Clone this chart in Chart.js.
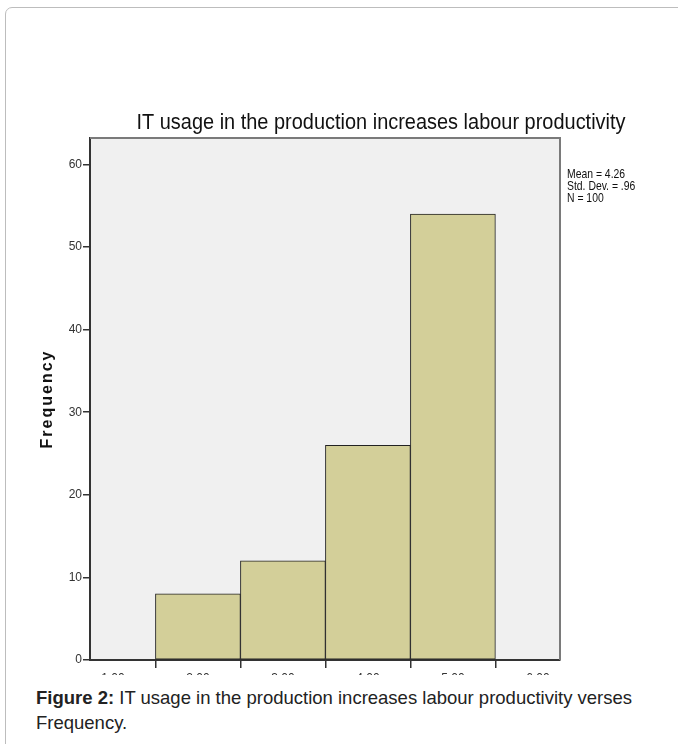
<!DOCTYPE html>
<html>
<head>
<meta charset="utf-8">
<script src="https://cdn.jsdelivr.net/npm/chart.js@4"></script>
<style>
  body { margin: 0; background: #fff; font-family: "Liberation Sans", Arial, sans-serif; }
  #frame {
    position: absolute; left: 5px; top: 7px; width: 720px; height: 800px;
    border: 1px solid #bdbdbd; border-radius: 7px 0 0 0; box-sizing: border-box;
  }
  #clip { position: absolute; left: 0; top: 0; width: 678px; height: 675px; overflow: hidden; }
  #wrap { position: absolute; left: 0; top: 0; width: 678px; height: 700px; }
  #caption {
    position: absolute; left: 36px; top: 685px; width: 612px;
    font-size: 18.5px; line-height: 25px; color: #222;
  }
</style>
</head>
<body>
<div id="frame"></div>
<div id="clip"><div id="wrap"><canvas id="histChart"></canvas></div></div>
<div id="caption"><b>Figure 2:</b> IT usage in the production increases labour productivity verses Frequency.</div>
<script>
const TITLE = "IT usage in the production increases labour productivity";
const Y_TITLE = "Frequency";
const BIN_CENTERS = [2, 3, 4, 5];
const FREQUENCIES = [8, 12, 26, 54];
const STATS = ["Mean = 4.26", "Std. Dev. = .96", "N = 100"];
const SANS = '"Liberation Sans", Arial, sans-serif';

// draw text squeezed horizontally to look like the narrow SPSS font
function narrowText(ctx, text, x, y, squeeze) {
  ctx.save();
  ctx.translate(x, y);
  ctx.scale(squeeze, 1);
  ctx.fillText(text, 0, 0);
  ctx.restore();
}

const plotFrame = {
  id: "plotFrame",
  beforeDraw(chart) {
    const { ctx, chartArea: a } = chart;
    ctx.save();
    ctx.fillStyle = "#f0f0f0";
    ctx.fillRect(a.left, a.top, a.right - a.left, a.bottom - a.top);
    ctx.restore();
  },
  afterDraw(chart) {
    const { ctx, chartArea: a } = chart;
    ctx.save();
    ctx.strokeStyle = "#7a7a7a";
    ctx.lineWidth = 2;
    ctx.beginPath();
    ctx.moveTo(a.left, a.top);
    ctx.lineTo(a.right, a.top);
    ctx.lineTo(a.right, a.bottom);
    ctx.stroke();

    // title, centred at 381, about 489px wide
    ctx.fillStyle = "#111";
    ctx.font = "22px " + SANS;
    ctx.textBaseline = "alphabetic";
    ctx.textAlign = "left";
    const tw = ctx.measureText(TITLE).width;
    const sq = 489 / tw;
    narrowText(ctx, TITLE, 381 - 244.5, 129, sq);

    // stats box
    ctx.font = "13px " + SANS;
    STATS.forEach((s, i) => narrowText(ctx, s, a.right + 7, 178 + i * 12, 0.8));

    // y axis title
    ctx.save();
    ctx.font = "bold 16px " + SANS;
    ctx.letterSpacing = "2px";
    ctx.textAlign = "center";
    ctx.textBaseline = "middle";
    ctx.translate(48, (a.top + a.bottom) / 2);
    ctx.rotate(-Math.PI / 2);
    ctx.fillText(Y_TITLE, 0, 0);
    ctx.restore();
    ctx.restore();
  },
};

new Chart(document.getElementById("histChart"), {
  type: "bar",
  data: {
    datasets: [
      {
        data: BIN_CENTERS.map((x, i) => ({ x, y: FREQUENCIES[i] })),
        backgroundColor: "#d3cf99",
        borderColor: "#222",
        borderWidth: 1,
        borderSkipped: false,
        barPercentage: 1,
        categoryPercentage: 1,
      },
    ],
  },
  options: {
    responsive: true,
    maintainAspectRatio: false,
    animation: false,
    layout: { padding: { top: 138, right: 118, left: 0, bottom: 0 } },
    plugins: { legend: { display: false }, tooltip: { enabled: false } },
    scales: {
      x: {
        type: "linear",
        offset: false,
        min: 0.73,
        max: 6.26,
        afterFit: (s) => { s.height = 40; },
        ticks: {
          stepSize: 1,
          includeBounds: false,
          padding: 3,
          color: "#333",
          font: { size: 12, family: SANS },
          callback: (v) => v.toFixed(2),
        },
        grid: { drawOnChartArea: false, drawTicks: true, tickLength: 8, color: "#333", lineWidth: 1.5 },
        border: { display: true, color: "#333", width: 2 },
      },
      y: {
        min: 0,
        max: 63.2,
        afterFit: (s) => { s.width = 90; },
        ticks: {
          stepSize: 10,
          includeBounds: false,
          padding: 1,
          color: "#333",
          font: { size: 12, family: SANS },
        },
        grid: { drawOnChartArea: false, drawTicks: true, tickLength: 7, color: "#333", lineWidth: 1.5 },
        border: { display: true, color: "#333", width: 2 },
      },
    },
  },
  plugins: [plotFrame],
});
</script>
</body>
</html>
